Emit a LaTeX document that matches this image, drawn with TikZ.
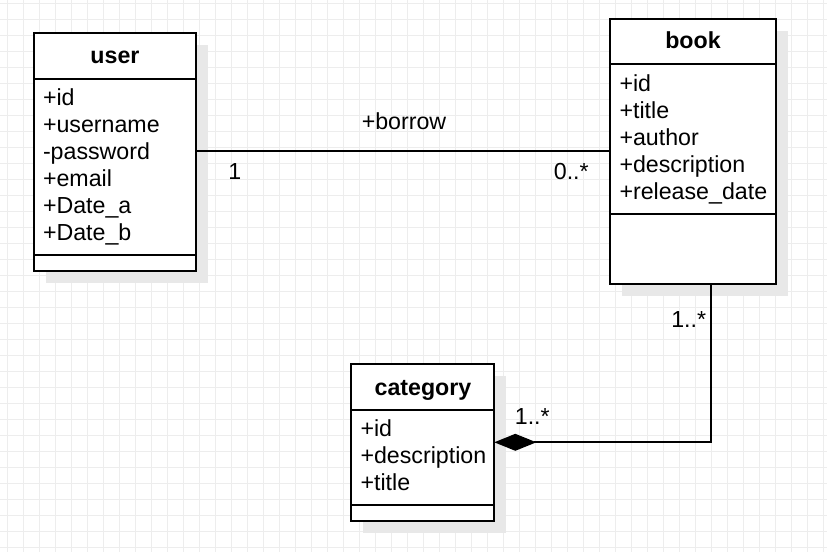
\documentclass[tikz,border=0pt]{standalone}
\usepackage{fontspec}
\setmainfont{Liberation Sans}
\usetikzlibrary{arrows.meta,backgrounds}
\begin{document}
\begin{tikzpicture}[x=1pt,y=-1pt,
  every node/.style={font=\fontsize{23.2}{27}\selectfont, inner sep=0pt, outer sep=0pt},
  classbox/.style={draw=black, line width=1.8pt, fill=white, anchor=north west},
  sepline/.style={draw=black, line width=1.8pt},
  attr/.style={anchor=base west},
  title/.style={anchor=base, font=\fontsize{23.2}{27}\selectfont\bfseries},
  lbl/.style={anchor=base},
  conn/.style={draw=black, line width=1.8pt},
  gridline/.style={draw=black!7, line width=0.9pt},
  shadowc/.style={fill=black!9}]
\useasboundingbox (0,0) rectangle (827,552);

% class boxes
\node[classbox, minimum width=161.4pt, minimum height=237.7pt] (user) at (34.3,33.3) {};
\node[classbox, minimum width=165.7pt, minimum height=265pt] (book) at (610,19) {};
\node[classbox, minimum width=143.3pt, minimum height=156.7pt] (category) at (351,364.3) {};

% separators
\draw[sepline] (user.west |- 0,79) -- (user.east |- 0,79);
\draw[sepline] (user.west |- 0,255.3) -- (user.east |- 0,255.3);
\draw[sepline] (book.west |- 0,64) -- (book.east |- 0,64);
\draw[sepline] (book.west |- 0,213.7) -- (book.east |- 0,213.7);
\draw[sepline] (category.west |- 0,409.7) -- (category.east |- 0,409.7);
\draw[sepline] (category.west |- 0,505.3) -- (category.east |- 0,505.3);

% titles
\node[title] (usertitle) at (115,63.3) {user};
\node[title] (booktitle) at (693,48.3) {book};
\node[title] (cattitle) at (423,395) {category};

% user attributes
\node[attr] (u1) at (43,105) {+id};
\node[attr] (u2) at (43,132) {+username};
\node[attr] (u3) at (43,159) {-password};
\node[attr] (u4) at (43,186) {+email};
\node[attr] (u5) at (43,213) {+Date\_a};
\node[attr] (u6) at (43,240) {+Date\_b};

% book attributes
\node[attr] (b1) at (619.5,91) {+id};
\node[attr] (b2) at (619.5,118) {+title};
\node[attr] (b3) at (619.5,145) {+author};
\node[attr] (b4) at (619.5,172) {+description};
\node[attr] (b5) at (619.5,199) {+release\_date};

% category attributes
\node[attr] (c1) at (360.5,436) {+id};
\node[attr] (c2) at (360.5,463) {+description};
\node[attr] (c3) at (360.5,490) {+title};

% connectors
\coordinate (borrowy) at (0,150.7);
\draw[conn] (user.east |- borrowy) -- (book.west |- borrowy);
\coordinate (bend) at (711,442.3);
\draw[conn, line join=miter, -{Diamond[length=42pt,width=17pt]}] (book.south -| bend) |- (category.east |- bend);

% labels
\node[lbl] (borrow) at (404,129.3) {+borrow};
\node[lbl] (m1) at (234.7,179) {1};
\node[lbl] (m2) at (571.3,179) {0..*};
\node[lbl] (m3) at (688.7,327.3) {1..*};
\node[lbl] (m4) at (532.3,424.3) {1..*};

\begin{scope}[on background layer]
  \fill[white] (0,0) rectangle (827,552);
  \foreach \x in {7.3,23.3,...,827} \draw[gridline] (\x,0) -- (\x,552);
  \foreach \y in {3,19,...,552} \draw[gridline] (0,\y) -- (827,\y);
  \fill[shadowc] ([shift={(12,12)}]user.north west) rectangle ([shift={(12,12)}]user.south east);
  \fill[shadowc] ([shift={(12,12)}]book.north west) rectangle ([shift={(12,12)}]book.south east);
  \fill[shadowc] ([shift={(12,12)}]category.north west) rectangle ([shift={(12,12)}]category.south east);
\end{scope}
\end{tikzpicture}
\end{document}
